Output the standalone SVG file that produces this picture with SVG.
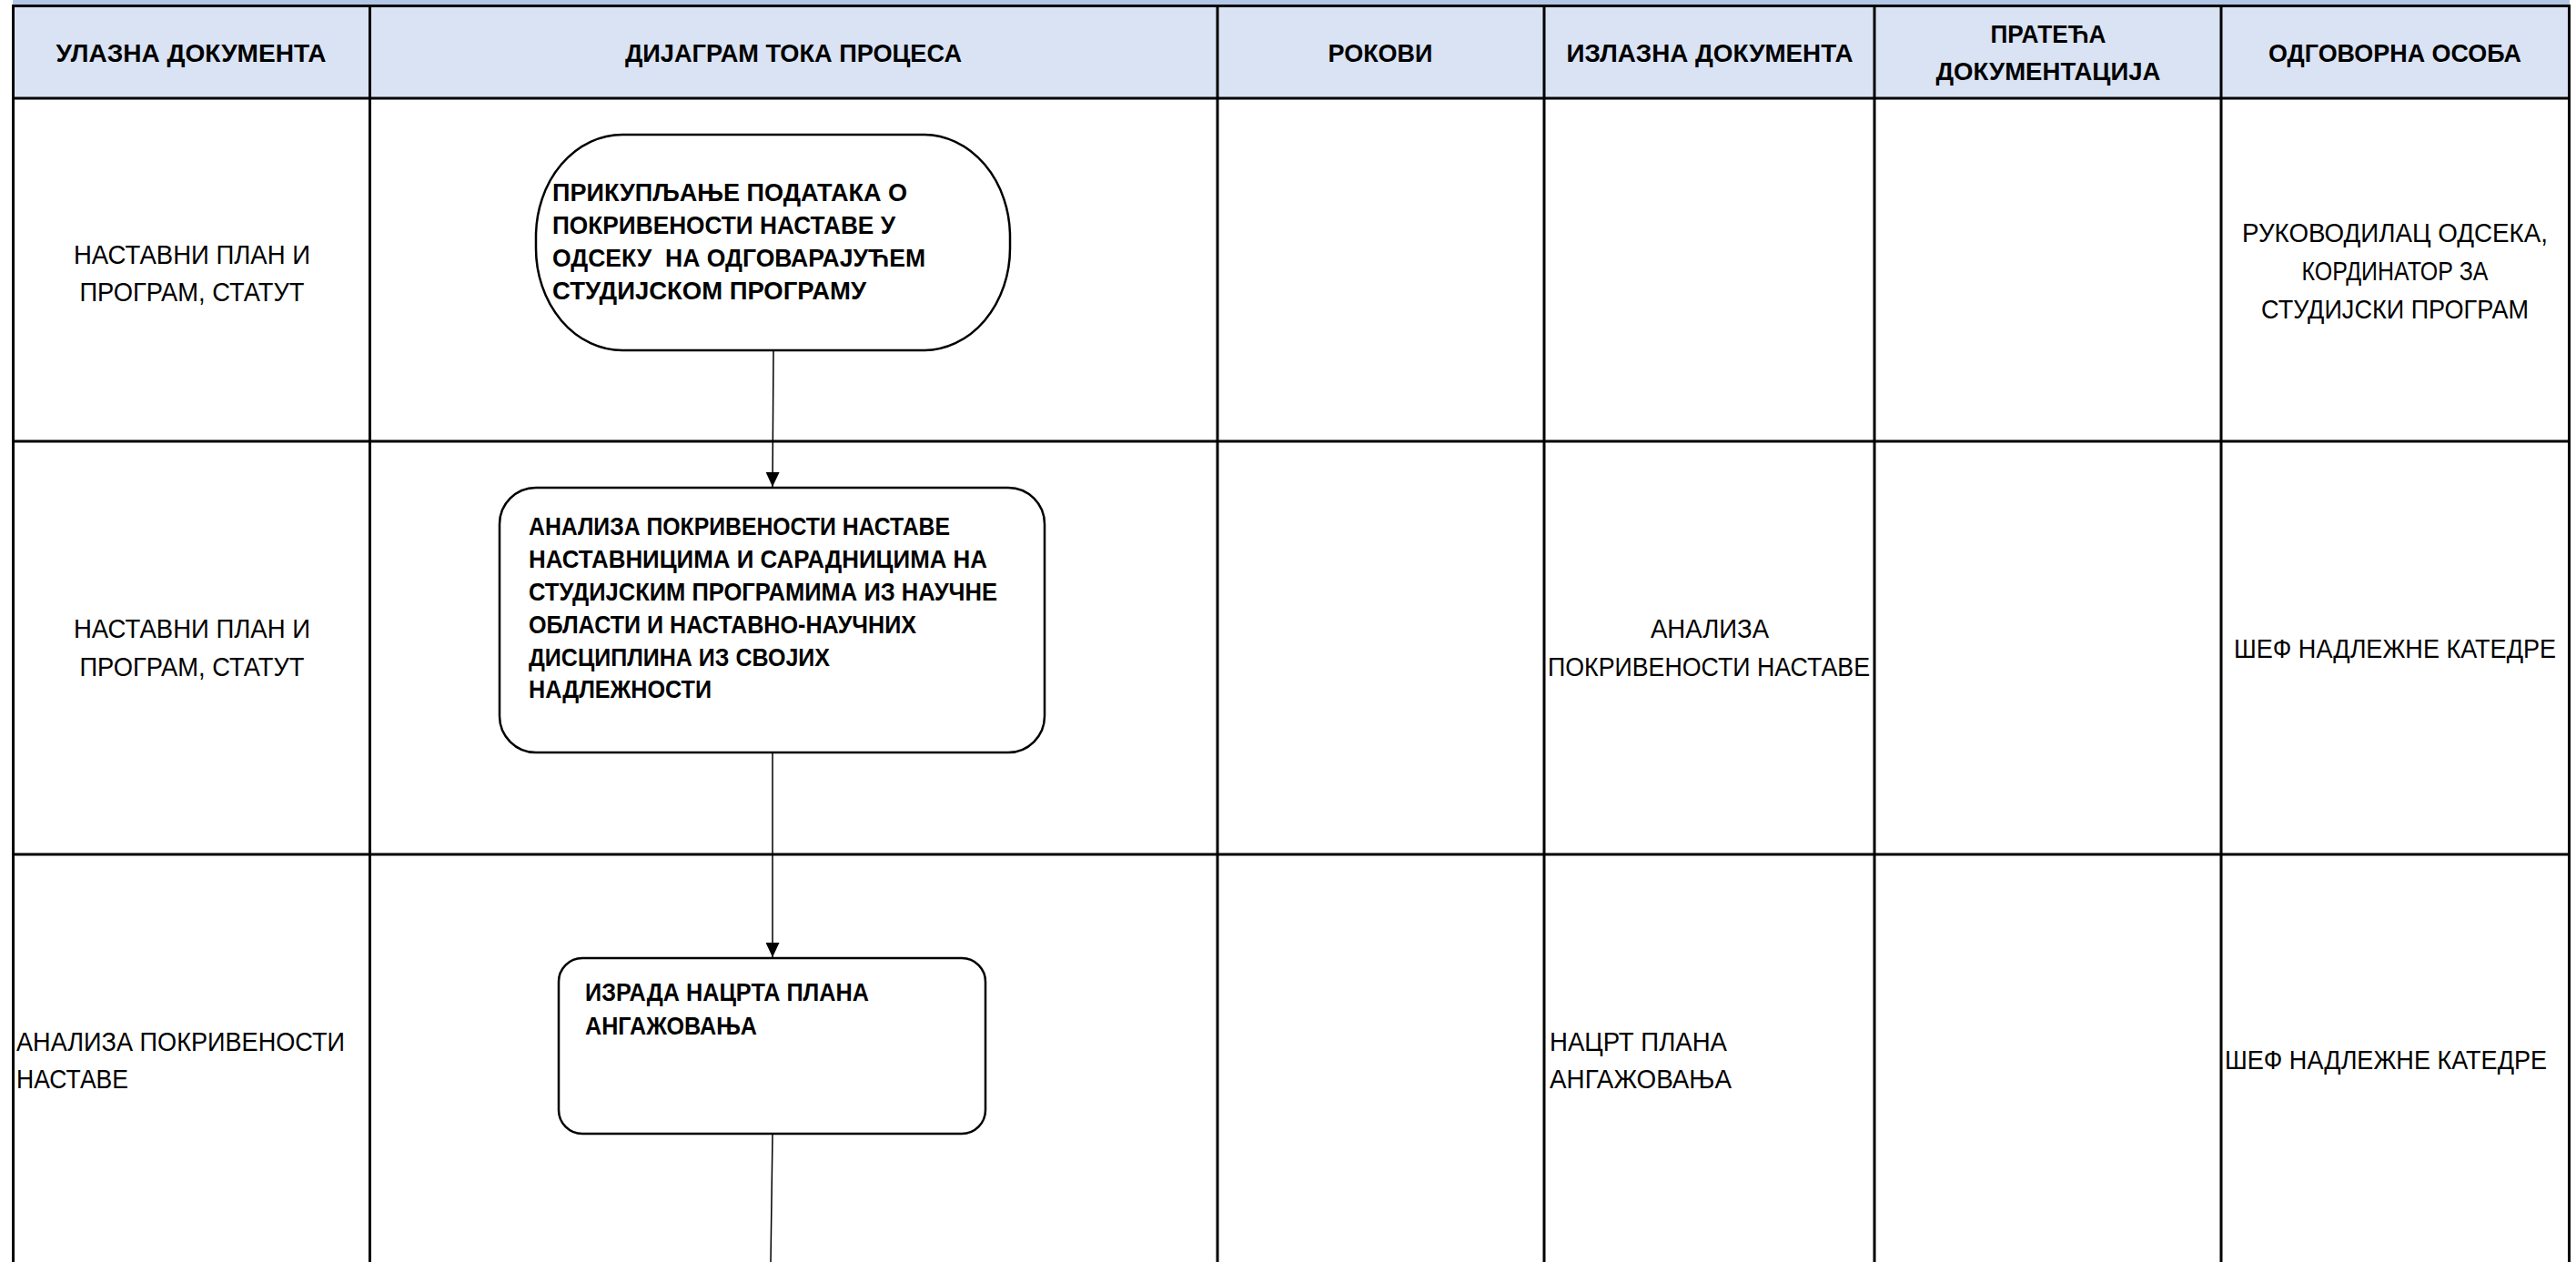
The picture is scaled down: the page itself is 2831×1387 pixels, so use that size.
<svg xmlns="http://www.w3.org/2000/svg" width="2831" height="1387" viewBox="0 0 2831 1387">
<style>
.grid{stroke:#000;stroke-width:3;fill:none}
.hd{font-family:"Liberation Sans",Arial,sans-serif;font-weight:bold;font-size:28px;fill:#000;text-anchor:middle}
.bd{font-family:"Liberation Sans",Arial,sans-serif;font-size:29px;fill:#000}
.c{text-anchor:middle}
.nt{font-family:"Liberation Sans",Arial,sans-serif;font-weight:bold;font-size:27px;fill:#000}
.shape{fill:#fff;stroke:#000;stroke-width:2.5}
.conn{stroke:#000;stroke-width:1.5;fill:none}
</style>
<defs>
<marker id="arr" viewBox="0 0 16 15" refX="16" refY="7.5" markerWidth="16" markerHeight="15" markerUnits="userSpaceOnUse" orient="auto">
<path d="M0,0 L16,7.5 L0,15 Z" fill="#000"/>
</marker>
</defs>
<rect x="0" y="0" width="2831" height="1387" fill="#fff"/>
<g id="header">
<rect x="14" y="0" width="2810" height="6" fill="#b4c7e7"/>
<rect x="14" y="7" width="2810" height="101" fill="#dae3f3"/>
</g>
<g id="grid">
<line class="grid" x1="13" y1="6.5" x2="2825" y2="6.5"/>
<line class="grid" x1="13" y1="108" x2="2825" y2="108"/>
<line class="grid" x1="13" y1="485" x2="2825" y2="485"/>
<line class="grid" x1="13" y1="939" x2="2825" y2="939"/>
<line class="grid" x1="14.5" y1="5" x2="14.5" y2="1387"/>
<line class="grid" x1="406.5" y1="5" x2="406.5" y2="1387"/>
<line class="grid" x1="1338" y1="5" x2="1338" y2="1387"/>
<line class="grid" x1="1697" y1="5" x2="1697" y2="1387"/>
<line class="grid" x1="2060" y1="5" x2="2060" y2="1387"/>
<line class="grid" x1="2441" y1="5" x2="2441" y2="1387"/>
<line class="grid" x1="2823.5" y1="5" x2="2823.5" y2="1387"/>
</g>
<g id="header-labels">
<text class="hd" x="210" y="68" textLength="297" lengthAdjust="spacingAndGlyphs">УЛАЗНА ДОКУМЕНТА</text>
<text class="hd" x="872" y="68" textLength="370" lengthAdjust="spacingAndGlyphs">ДИЈАГРАМ ТОКА ПРОЦЕСА</text>
<text class="hd" x="1517" y="68" textLength="115" lengthAdjust="spacingAndGlyphs">РОКОВИ</text>
<text class="hd" x="1879" y="68" textLength="315" lengthAdjust="spacingAndGlyphs">ИЗЛАЗНА ДОКУМЕНТА</text>
<text class="hd" x="2251" y="47" textLength="127" lengthAdjust="spacingAndGlyphs">ПРАТЕЋА</text>
<text class="hd" x="2251" y="88" textLength="247" lengthAdjust="spacingAndGlyphs">ДОКУМЕНТАЦИЈА</text>
<text class="hd" x="2632" y="68" textLength="278" lengthAdjust="spacingAndGlyphs">ОДГОВОРНА ОСОБА</text>
</g>
<g id="cells">
<text class="bd c" x="211" y="290" textLength="260" lengthAdjust="spacingAndGlyphs">НАСТАВНИ ПЛАН И</text>
<text class="bd c" x="211" y="331" textLength="247" lengthAdjust="spacingAndGlyphs">ПРОГРАМ, СТАТУТ</text>
<text class="bd c" x="2632" y="266" textLength="336" lengthAdjust="spacingAndGlyphs">РУКОВОДИЛАЦ ОДСЕКА,</text>
<text class="bd c" x="2632" y="308" textLength="205" lengthAdjust="spacingAndGlyphs">КОРДИНАТОР ЗА</text>
<text class="bd c" x="2632" y="350" textLength="294" lengthAdjust="spacingAndGlyphs">СТУДИЈСКИ ПРОГРАМ</text>
<text class="bd c" x="211" y="701" textLength="260" lengthAdjust="spacingAndGlyphs">НАСТАВНИ ПЛАН И</text>
<text class="bd c" x="211" y="743" textLength="247" lengthAdjust="spacingAndGlyphs">ПРОГРАМ, СТАТУТ</text>
<text class="bd c" x="1879" y="701" textLength="130" lengthAdjust="spacingAndGlyphs">АНАЛИЗА</text>
<text class="bd c" x="1878" y="743" textLength="354" lengthAdjust="spacingAndGlyphs">ПОКРИВЕНОСТИ НАСТАВЕ</text>
<text class="bd c" x="2632" y="723" textLength="354" lengthAdjust="spacingAndGlyphs">ШЕФ НАДЛЕЖНЕ КАТЕДРЕ</text>
<text class="bd" x="18" y="1155" textLength="361" lengthAdjust="spacingAndGlyphs">АНАЛИЗА ПОКРИВЕНОСТИ</text>
<text class="bd" x="18" y="1196" textLength="123" lengthAdjust="spacingAndGlyphs">НАСТАВЕ</text>
<text class="bd" x="1703" y="1155" textLength="195" lengthAdjust="spacingAndGlyphs">НАЦРТ ПЛАНА</text>
<text class="bd" x="1703" y="1196" textLength="200" lengthAdjust="spacingAndGlyphs">АНГАЖОВАЊА</text>
<text class="bd" x="2445" y="1175" textLength="354" lengthAdjust="spacingAndGlyphs">ШЕФ НАДЛЕЖНЕ КАТЕДРЕ</text>
</g>
<g id="connectors">
<line class="conn" x1="850" y1="386" x2="849" y2="535" marker-end="url(#arr)"/>
<line class="conn" x1="849" y1="828" x2="849" y2="1052" marker-end="url(#arr)"/>
<line class="conn" x1="849" y1="1247" x2="847" y2="1387"/>
</g>
<g id="node1">
<rect class="shape" x="589" y="148" width="521" height="237" rx="95" ry="112"/>
<text class="nt" x="607" y="221" textLength="390" lengthAdjust="spacingAndGlyphs">ПРИКУПЉАЊЕ ПОДАТАКА О</text>
<text class="nt" x="607" y="257" textLength="377" lengthAdjust="spacingAndGlyphs">ПОКРИВЕНОСТИ НАСТАВЕ У</text>
<text class="nt" x="607" y="293" textLength="410" lengthAdjust="spacingAndGlyphs" xml:space="preserve">ОДСЕКУ  НА ОДГОВАРАЈУЋЕМ</text>
<text class="nt" x="607" y="329" textLength="345" lengthAdjust="spacingAndGlyphs">СТУДИЈСКОМ ПРОГРАМУ</text>
</g>
<g id="node2">
<rect class="shape" x="549" y="536" width="599" height="291" rx="40" ry="40"/>
<text class="nt" x="581" y="588" textLength="463" lengthAdjust="spacingAndGlyphs">АНАЛИЗА ПОКРИВЕНОСТИ НАСТАВЕ</text>
<text class="nt" x="581" y="624" textLength="504" lengthAdjust="spacingAndGlyphs">НАСТАВНИЦИМА И САРАДНИЦИМА НА</text>
<text class="nt" x="581" y="660" textLength="515" lengthAdjust="spacingAndGlyphs">СТУДИЈСКИМ ПРОГРАМИМА ИЗ НАУЧНЕ</text>
<text class="nt" x="581" y="696" textLength="426" lengthAdjust="spacingAndGlyphs">ОБЛАСТИ И НАСТАВНО-НАУЧНИХ</text>
<text class="nt" x="581" y="732" textLength="331" lengthAdjust="spacingAndGlyphs">ДИСЦИПЛИНА ИЗ СВОЈИХ</text>
<text class="nt" x="581" y="767" textLength="201" lengthAdjust="spacingAndGlyphs">НАДЛЕЖНОСТИ</text>
</g>
<g id="node3">
<rect class="shape" x="614" y="1053" width="469" height="193" rx="26" ry="26"/>
<text class="nt" x="643" y="1100" textLength="312" lengthAdjust="spacingAndGlyphs">ИЗРАДА НАЦРТА ПЛАНА</text>
<text class="nt" x="643" y="1137" textLength="189" lengthAdjust="spacingAndGlyphs">АНГАЖОВАЊА</text>
</g>
</svg>
